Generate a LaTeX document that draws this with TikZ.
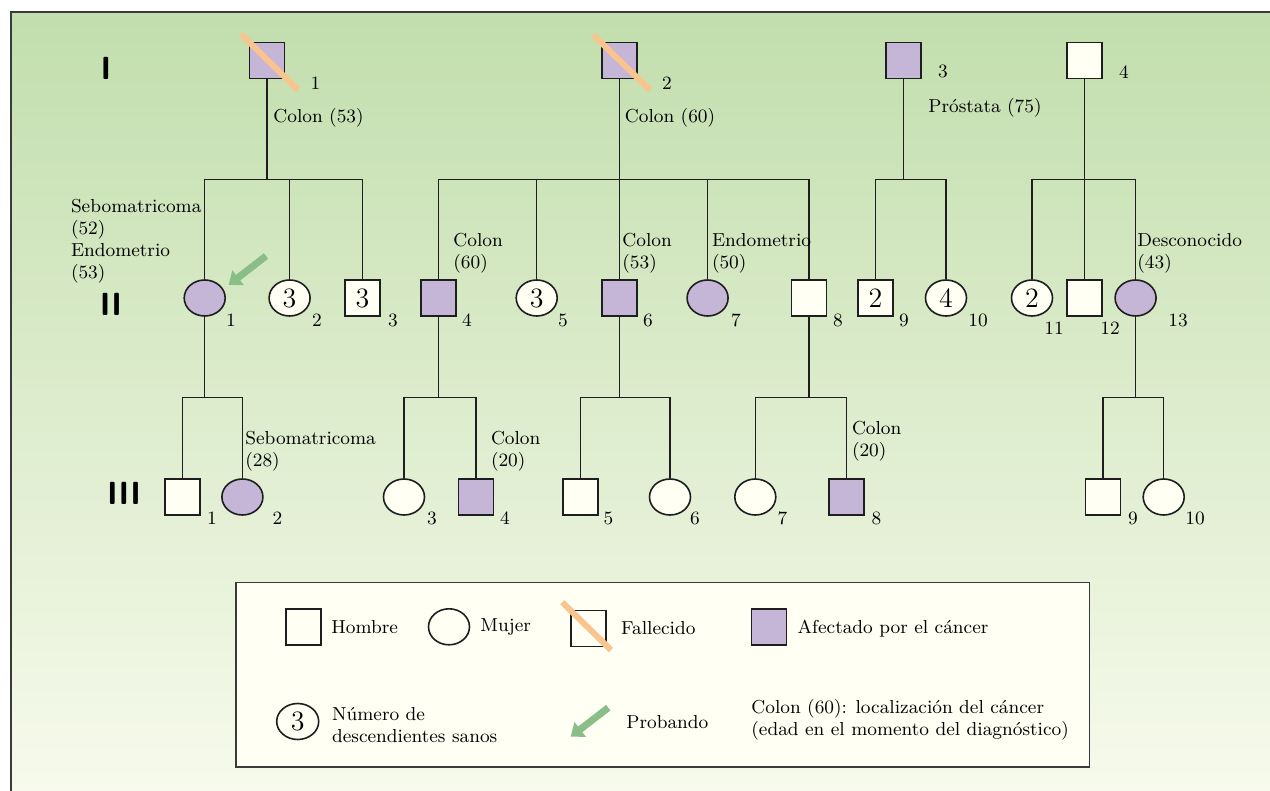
\documentclass[tikz,border=0pt]{standalone}
\usepackage{xcolor}
\usepackage{tikz}
\usetikzlibrary{arrows.meta,shapes.geometric}
\definecolor{ink}{HTML}{1E1E1E}
\definecolor{rim}{HTML}{3A3A3A}
\definecolor{sick}{HTML}{C5B5D7}
\definecolor{cream}{HTML}{FFFFF4}
\definecolor{slashcol}{HTML}{F9C48E}
\definecolor{probe}{HTML}{89BE88}
\definecolor{bgtop}{HTML}{C2DEAD}
\definecolor{bgbot}{HTML}{F7FAEC}
\tikzset{
  manbox/.style={rectangle,draw=ink,line width=0.8pt,fill=cream,
    minimum width=17.5pt,minimum height=18pt,inner sep=0pt},
  womanbox/.style={ellipse,draw=ink,line width=0.8pt,fill=cream,
    minimum width=20.5pt,minimum height=18pt,inner sep=0pt},
  ill/.style={fill=sick},
  sanos/.style={font=\fontsize{14}{14}\selectfont},
  pedline/.style={draw=ink,line width=0.55pt},
  idnum/.style={inner sep=0pt,font=\fontsize{9.4}{11}\selectfont},
  notelabel/.style={anchor=west,align=left,inner sep=0pt,
    font=\fontsize{9.4}{11}\selectfont},
  genlabel/.style={inner sep=0pt,font=\fontsize{16}{16}\sffamily\bfseries},
  deadslash/.style={draw=slashcol,line width=3pt},
  probarrow/.style={draw=probe,line width=3.5pt,-{Triangle[length=6pt,width=9pt]}},
  legendbox/.style={rectangle,draw=rim,line width=0.8pt,fill=cream,
    minimum width=426.8pt,minimum height=92.2pt,inner sep=0pt}
}

\begin{document}
\begin{tikzpicture}[x=0.5pt,y=-0.5pt]
\useasboundingbox (0,0) rectangle (1270,791);
\shade[top color=bgtop,bottom color=bgbot] (11,12.5) rectangle (1270,791);
\draw[rim,line width=1pt] (11,791) -- (11,12.5) -- (1270,12.5);

% generation labels
\node[genlabel] (gI) at (106,68) {I};
\node[genlabel] (gII) at (111,304.5) {II};
\node[genlabel] (gIII) at (124,493) {III};

% generation I
\node[manbox,ill] (i1) at (267,60.5) {};
\node[manbox,ill] (i2) at (619.5,60.5) {};
\node[manbox,ill] (i3) at (903.5,60.5) {};
\node[manbox] (i4) at (1084.5,60.5) {};
\node[idnum] (n-i1) at (315.5,83) {1};
\node[idnum] (n-i2) at (667,83) {2};
\node[idnum] (n-i3) at (943,71) {3};
\node[idnum] (n-i4) at (1124,72) {4};

% generation II
\node[womanbox,ill] (ii1) at (204.7,298) {};
\node[womanbox,sanos] (ii2) at (289.6,298) {3};
\node[manbox,sanos] (ii3) at (362.6,298) {3};
\node[manbox,ill] (ii4) at (438.4,298) {};
\node[womanbox,sanos] (ii5) at (536.7,298) {3};
\node[manbox,ill] (ii6) at (619.5,298) {};
\node[womanbox,ill] (ii7) at (707.6,298) {};
\node[manbox] (ii8) at (809,298) {};
\node[manbox,sanos] (ii9) at (875.5,298) {2};
\node[womanbox,sanos] (ii10) at (946,298) {4};
\node[womanbox,sanos] (ii11) at (1032,298) {2};
\node[manbox] (ii12) at (1084.5,298) {};
\node[womanbox,ill] (ii13) at (1135.6,298) {};
\node[idnum] (n-ii1) at (231,320) {1};
\node[idnum] (n-ii2) at (317,320) {2};
\node[idnum] (n-ii3) at (393,320) {3};
\node[idnum] (n-ii4) at (467,320) {4};
\node[idnum] (n-ii5) at (563,320) {5};
\node[idnum] (n-ii6) at (648,320) {6};
\node[idnum] (n-ii7) at (736,320) {7};
\node[idnum] (n-ii8) at (838,320) {8};
\node[idnum] (n-ii9) at (904,320) {9};
\node[idnum] (n-ii10) at (978,320) {10};
\node[idnum] (n-ii11) at (1054,328) {11};
\node[idnum] (n-ii12) at (1110,328) {12};
\node[idnum] (n-ii13) at (1178,320) {13};

% generation III
\node[manbox] (iii1) at (182.4,497) {};
\node[womanbox,ill] (iii2) at (242.4,497) {};
\node[womanbox] (iii3) at (404,497) {};
\node[manbox,ill] (iii4) at (476,497) {};
\node[manbox] (iii5) at (580.5,497) {};
\node[womanbox] (iii6) at (670,497) {};
\node[womanbox] (iii7) at (755.3,497) {};
\node[manbox,ill] (iii8) at (846.6,497) {};
\node[manbox] (iii9) at (1103,497) {};
\node[womanbox] (iii10) at (1163.7,497) {};
\node[idnum] (n-iii1) at (212,518) {1};
\node[idnum] (n-iii2) at (277.5,518) {2};
\node[idnum] (n-iii3) at (432,518) {3};
\node[idnum] (n-iii4) at (505,518) {4};
\node[idnum] (n-iii5) at (608.5,518) {5};
\node[idnum] (n-iii6) at (695,518) {6};
\node[idnum] (n-iii7) at (782.5,518) {7};
\node[idnum] (n-iii8) at (876.5,518) {8};
\node[idnum] (n-iii9) at (1133,518) {9};
\node[idnum] (n-iii10) at (1195,518) {10};

% sibship lines
\coordinate (lvA) at (0,179.3);
\coordinate (lvB) at (0,397.3);
\draw[pedline] (i1) -- (i1|-lvA);
\draw[pedline] (ii1) |- (i1|-lvA) -| (ii3);
\draw[pedline] (ii2) -- (ii2|-lvA);
\draw[pedline] (i2) -- (i2|-lvA);
\draw[pedline] (ii4) |- (i2|-lvA) -| (ii8);
\draw[pedline] (ii5) -- (ii5|-lvA);
\draw[pedline] (ii6) -- (ii6|-lvA);
\draw[pedline] (ii7) -- (ii7|-lvA);
\draw[pedline] (i3) -- (i3|-lvA);
\draw[pedline] (ii9) |- (i3|-lvA) -| (ii10);
\draw[pedline] (i4) -- (i4|-lvA);
\draw[pedline] (ii11) |- (i4|-lvA) -| (ii13);
\draw[pedline] (ii12) -- (ii12|-lvA);
\draw[pedline] (ii1) -- (ii1|-lvB);
\draw[pedline] (iii1) |- (ii1|-lvB) -| (iii2);
\draw[pedline] (ii4) -- (ii4|-lvB);
\draw[pedline] (iii3) |- (ii4|-lvB) -| (iii4);
\draw[pedline] (ii6) -- (ii6|-lvB);
\draw[pedline] (iii5) |- (ii6|-lvB) -| (iii6);
\draw[pedline] (ii8) -- (ii8|-lvB);
\draw[pedline] (iii7) |- (ii8|-lvB) -| (iii8);
\draw[pedline] (ii13) -- (ii13|-lvB);
\draw[pedline] (iii9) |- (ii13|-lvB) -| (iii10);

% deceased
\coordinate (d1a) at (241,34);
\coordinate (d1b) at (298,90);
\coordinate (d2a) at (593.3,35);
\coordinate (d2b) at (650,90);
\draw[deadslash] (d1a) -- (d1b);
\draw[deadslash] (d2a) -- (d2b);

% probando
\coordinate (pa) at (266,256);
\coordinate (pb) at (228.6,285);
\draw[probarrow] (pa) -- (pb);

% diagnoses
\node[notelabel] (c-i1) at (273,118) {Colon (53)};
\node[notelabel] (c-i2) at (624.5,118) {Colon (60)};
\node[notelabel] (c-i3) at (928,108) {Próstata (75)};
\node[notelabel] (c-ii1) at (70.6,241.5) {Sebomatricoma\\(52)\\Endometrio\\(53)};
\node[notelabel] (c-ii4) at (453,253.5) {Colon\\(60)};
\node[notelabel] (c-ii6) at (622,253.5) {Colon\\(53)};
\node[notelabel] (c-ii7) at (711.6,253.5) {Endometrio\\(50)};
\node[notelabel] (c-ii13) at (1137,253.5) {Desconocido\\(43)};
\node[notelabel] (c-iii2) at (245,451.5) {Sebomatricoma\\(28)};
\node[notelabel] (c-iii4) at (490.6,451.5) {Colon\\(20)};
\node[notelabel] (c-iii8) at (851.6,441.5) {Colon\\(20)};

% key
\node[legendbox] (legend) at (662.5,674.85) {};
\node[manbox] (keyman) at (303.3,626.8) {};
\node[womanbox] (keywoman) at (449,626.8) {};
\node[manbox] (keydead) at (588.3,628.5) {};
\node[manbox,ill] (keyill) at (768.8,626.7) {};
\node[womanbox,sanos,minimum width=21pt] (keysanos) at (297.7,721.5) {3};
\coordinate (kda) at (562.3,602.3);
\coordinate (kdb) at (611,650);
\draw[deadslash] (kda) -- (kdb);
\coordinate (kpa) at (608.3,707.7);
\coordinate (kpb) at (570.7,736.7);
\draw[probarrow] (kpa) -- (kpb);
\node[notelabel] (t-man) at (331,626.7) {Hombre};
\node[notelabel] (t-woman) at (480,626.7) {Mujer};
\node[notelabel] (t-dead) at (620.7,627.7) {Fallecido};
\node[notelabel] (t-ill) at (797.3,628.5) {Afectado por el cáncer};
\node[notelabel] (t-sanos) at (331.7,725) {Número de\\descendientes sanos};
\node[notelabel] (t-prob) at (626,721.7) {Probando};
\node[notelabel] (t-note) at (751,719.5) {Colon (60): localización del cáncer\\(edad en el momento del diagnóstico)};
\end{tikzpicture}
\end{document}
